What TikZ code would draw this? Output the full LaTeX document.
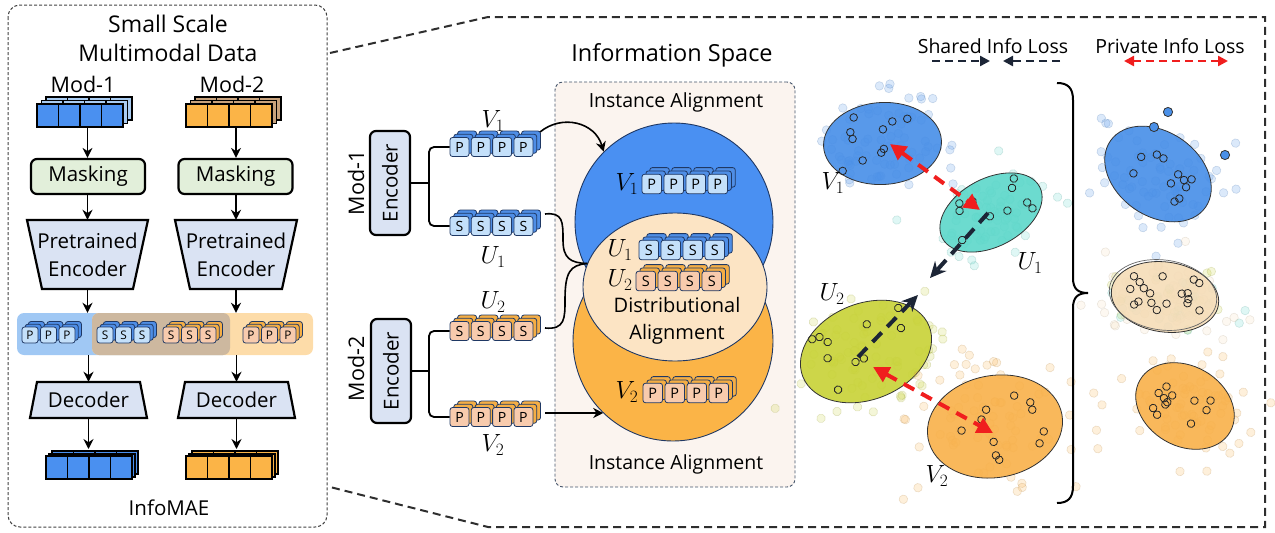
\documentclass[tikz,border=0pt]{standalone}
\usepackage{fontspec}
\setmainfont{Open Sans}
\usetikzlibrary{arrows.meta,calc,shapes.geometric}

\definecolor{maskgreen}{HTML}{E2EFDA}
\definecolor{trapblue}{HTML}{DAE3F3}
\definecolor{modblue}{HTML}{4A90F0}
\definecolor{modblueback}{HTML}{A9CCF2}
\definecolor{modorange}{HTML}{FBB447}
\definecolor{modorangeback}{HTML}{C8A27C}
\definecolor{tokblue}{HTML}{C4E0FA}
\definecolor{tokblueback}{HTML}{4F8EE6}
\definecolor{tokpeach}{HTML}{F8CBAD}
\definecolor{tokpeachback}{HTML}{F5AE45}
\definecolor{navy}{HTML}{1F3864}
\definecolor{bandblue}{HTML}{A0C8F4}
\definecolor{bandbrown}{HTML}{CDB89F}
\definecolor{bandorange}{HTML}{FDDCA9}
\definecolor{spacebg}{HTML}{FBF4EF}
\definecolor{spaceline}{HTML}{44546A}
\definecolor{circblue}{HTML}{4A90F2}
\definecolor{circorange}{HTML}{FBB447}
\definecolor{circcream}{HTML}{FCE4C4}
\definecolor{sclblue}{HTML}{4A90E8}
\definecolor{sclteal}{HTML}{5FD8CB}
\definecolor{sclyellow}{HTML}{C9D33A}
\definecolor{sclorange}{HTML}{F9B24D}
\definecolor{sclbeige}{HTML}{F5DDB9}
\definecolor{lossred}{HTML}{F01E1E}
\definecolor{lossdark}{HTML}{1C2536}
\definecolor{framegray}{HTML}{2E2E2E}

\tikzset{
  txt/.style={font=\fontsize{20.5}{28}\selectfont, inner sep=0pt, align=center},
  bigtxt/.style={font=\fontsize{23}{29}\selectfont, inner sep=0pt, align=center},
  smalltxt/.style={font=\fontsize{19.5}{24}\selectfont, inner sep=0pt, align=center},
  mathlab/.style={font=\fontsize{24}{24}\selectfont, inner sep=0pt},
  masknode/.style={txt, draw=black, line width=2.2pt, rounded corners=6pt, fill=maskgreen,
    minimum width=114pt, minimum height=35pt},
  trapfill/.style={draw=black, line width=2.2pt, fill=trapblue, line join=miter},
  encnode/.style={txt, draw=black, line width=2.2pt, rounded corners=6pt, fill=trapblue,
    minimum width=104pt, minimum height=40pt, rotate=90},
  flow/.style={-{Stealth[length=10pt,width=10pt]}, line width=1.9pt},
  brace/.style={line width=1.8pt, rounded corners=5pt},
  tokback/.style={draw=navy, line width=0.8pt, rounded corners=2.5pt},
  tokface/.style={draw=navy, line width=0.8pt, rounded corners=2.5pt, inner sep=0pt},
  cube/.style={draw=black, line width=1.8pt},
  panel/.style={draw=black!75, line width=1pt, dash pattern=on 3pt off 2pt, rounded corners=12pt},
  zoomframe/.style={draw=framegray, line width=2pt, dash pattern=on 8pt off 5pt},
  legdark/.style={draw=lossdark, line width=2.4pt, dash pattern=on 8pt off 5pt,
    -{Triangle[length=10pt,width=10pt]}},
  legred/.style={draw=lossred, line width=2.4pt, dash pattern=on 8pt off 5pt,
    {Triangle[length=10pt,width=10pt]}-{Triangle[length=10pt,width=10pt]}},
  bigred/.style={draw=lossred, line width=4pt, dash pattern=on 12pt off 8pt,
    {Triangle[length=16pt,width=16pt]}-{Triangle[length=16pt,width=16pt]}},
  bigdark/.style={draw=lossdark, line width=4pt, dash pattern=on 13pt off 8pt,
    -{Stealth[length=16pt,width=15pt]}},
  outlier/.style={fill=sclblue, draw=black!80, line width=.8pt},
}

% a row of stacked tokens: name, left x, centre y, count, pitch, size, letter, face, back
\newcommand{\tokrow}[9]{%
  \pgfmathsetmacro\tokfs{0.74*#6}%
  \foreach \lay in {2,1}{%
    \foreach \k in {1,...,#4}{%
      \draw[tokback, fill=#9] ({#2+(\k-1)*#5+0.2*\lay*#6},{#3-#6/2-0.17*\lay*#6}) rectangle ++(#6,#6);
    }}%
  \foreach \k in {1,...,#4}{%
    \node[tokface, fill=#8, minimum size=#6pt, font=\fontsize{\tokfs}{\tokfs}\selectfont]
      (#1-\k) at ({#2+(\k-1)*#5+#6/2},#3) {#7};
  }}

% a stack of four data cubes: left x, top y, face colour, back colour, layer step
\newcommand{\datastack}[5]{%
  \foreach \lay in {2,1}{%
    \foreach \k in {0,...,3}{%
      \draw[cube, fill=#4] ({#1+\k*21.5+\lay*#5},{#2-\lay*#5*0.8}) rectangle ++(21.5,23);
    }}%
  \foreach \k in {0,...,3}{%
    \draw[cube, fill=#3] ({#1+\k*21.5},#2) rectangle ++(21.5,23);
  }}

% faint scattered samples around a centre: cx, cy, sx, sy, colour, count, seed
\newcommand{\haze}[7]{%
  \begin{scope}[shift={(#1,#2)}]
    \pgfmathsetseed{#7}
    \foreach \i in {1,...,#6}{%
      \pgfmathsetmacro\px{0.5*#3*(rand+rand+rand)}
      \pgfmathsetmacro\py{0.5*#4*(rand+rand+rand)}
      \filldraw[fill=#5, draw=#5!70!black, fill opacity=.2, draw opacity=.22, line width=.6pt]
        (\px,\py) circle[radius=4.3];
    }
  \end{scope}}

% a scatter cluster: cx, cy, rx, ry, angle, colour, faint points, marked points, seed
\newcommand{\cluster}[9]{%
  \begin{scope}[shift={(#1,#2)}, rotate=#5]
    \pgfmathsetseed{#9}
    \foreach \i in {1,...,#7}{%
      \pgfmathsetmacro\px{0.6*#3*(rand+rand+rand)}
      \pgfmathsetmacro\py{0.65*#4*(rand+rand+rand)}
      \filldraw[fill=#6, draw=#6!70!black, fill opacity=.2, draw opacity=.22, line width=.6pt]
        (\px,\py) circle[radius=4.3];
    }
    \filldraw[fill=#6, fill opacity=.92, draw=black!80, line width=.8pt]
      (0,0) ellipse[x radius=#3, y radius=#4];
    \foreach \i in {1,...,#8}{%
      \pgfmathsetmacro\px{0.72*#3*rand}
      \pgfmathsetmacro\py{0.68*#4*rand}
      \draw[black!85, line width=.8pt] (\px,\py) circle[radius=3.8];
    }
  \end{scope}}

\begin{document}
\begin{tikzpicture}[x=1pt,y=-1pt]
\useasboundingbox (0,0) rectangle (1275,533);

% ================= zoom frame =================
\draw[zoomframe] (330,53) -- (488,17) -- (1265,17) -- (1265,527) -- (488,527) -- (330,487);

% ================= InfoMAE panel =================
\draw[panel] (8,5) rectangle (327,527);
\node[bigtxt] (title) at (168,38) {Small Scale\\Multimodal Data};
\node[txt, font=\fontsize{21.5}{28}\selectfont] (modlabA) at (83,84) {Mod-1};
\node[txt, font=\fontsize{21.5}{28}\selectfont] (modlabB) at (232,84) {Mod-2};

\datastack{37}{104}{modblue}{modblueback}{4.5}
\datastack{186}{104}{modorange}{modorangeback}{4.5}
\coordinate (inA) at (87.5,127);
\coordinate (inB) at (236,127);

\node[masknode] (maskA) at (88,176.5) {Masking};
\node[masknode] (maskB) at (235.5,176.5) {Masking};

\draw[trapfill] (27,220) -- (148,220) -- (133,289) -- (42,289) -- cycle;
\draw[trapfill] (175,220) -- (297,220) -- (282,289) -- (190,289) -- cycle;
\node[txt, minimum width=121pt, minimum height=69pt] (peA) at (87.5,254.5) {Pretrained\\Encoder};
\node[txt, minimum width=122pt, minimum height=69pt] (peB) at (236,254.5) {Pretrained\\Encoder};

% latent band
\fill[bandblue, rounded corners=7pt] (17,313) rectangle (230,355);
\fill[bandorange, rounded corners=7pt] (92,313) rectangle (313,355);
\fill[bandbrown, rounded corners=7pt] (92,313) rectangle (230,355);
\node[minimum width=296pt, minimum height=42pt, inner sep=0pt] (band) at (165,334) {};
\tokrow{bpA}{22}{335}{3}{18.5}{16}{P}{tokblue}{tokblueback}
\tokrow{bsA}{97}{335}{3}{18.5}{16}{S}{tokblue}{tokblueback}
\tokrow{bsB}{163}{335}{3}{18.5}{16}{S}{tokpeach}{tokpeachback}
\tokrow{bpB}{243}{335}{3}{18.5}{16}{P}{tokpeach}{tokpeachback}

\draw[trapfill] (37,382) -- (140,382) -- (147,418) -- (30,418) -- cycle;
\draw[trapfill] (185,382) -- (288,382) -- (295,418) -- (178,418) -- cycle;
\node[txt, minimum width=117pt, minimum height=36pt] (decA) at (88.5,400) {Decoder};
\node[txt, minimum width=117pt, minimum height=36pt] (decB) at (236.5,400) {Decoder};

\datastack{46}{456}{modblue}{modblue}{3}
\datastack{186}{456}{modorange}{modorange}{3}
\coordinate (outA) at (88.5,449);
\coordinate (outB) at (236.5,449);

\node[txt] (infomae) at (169,508) {InfoMAE};

\draw[flow] (inA) -- (maskA.north -| inA);
\draw[flow] (inB) -- (maskB.north -| inB);
\draw[flow] (maskA.south -| peA) -- (peA.north);
\draw[flow] (maskB.south -| peB) -- (peB.north);
\draw[flow] (peA.south) -- (peA.south |- band.north);
\draw[flow] (peB.south) -- (peB.south |- band.north);
\draw[flow] (band.south -| decA) -- (decA.north);
\draw[flow] (band.south -| decB) -- (decB.north);
\draw[flow] (decA.south) -- (outA);
\draw[flow] (decB.south) -- (outB);

% ================= encoders and token rows =================
\node[encnode] (encA) at (390,183) {Encoder};
\node[encnode] (encB) at (391,371) {Encoder};
\node[txt, rotate=90, font=\fontsize{21.5}{28}\selectfont] (modA) at (356,183) {Mod-1};
\node[txt, rotate=90, font=\fontsize{21.5}{28}\selectfont] (modB) at (356,369) {Mod-2};

\tokrow{v1}{450}{147}{4}{21.3}{19}{P}{tokblue}{tokblueback}
\tokrow{u1}{450}{226}{4}{21.3}{19}{S}{tokblue}{tokblueback}
\tokrow{u2}{450}{331}{4}{21.3}{19}{S}{tokpeach}{tokpeachback}
\tokrow{v2}{450}{417}{4}{21.3}{19}{P}{tokpeach}{tokpeachback}

\node[mathlab] (lv1) at (493,121) {$V_1$};
\node[mathlab] (lu1) at (493,257) {$U_1$};
\node[mathlab] (lu2) at (493,302) {$U_2$};
\node[mathlab] (lv2) at (493,445) {$V_2$};

\coordinate (forkA) at (429,183);
\coordinate (forkB) at (429,371);
\draw[line width=1.8pt] (encA.south) -- (forkA);
\draw[line width=1.8pt] (encB.south) -- (forkB);
\draw[brace] (v1-1.west) -- (v1-1.west -| forkA) -- (u1-1.west -| forkA) -- (u1-1.west);
\draw[brace] (u2-1.west) -- (u2-1.west -| forkB) -- (v2-1.west -| forkB) -- (v2-1.west);

% ================= information space =================
\node[bigtxt, font=\fontsize{23.5}{28}\selectfont] (infospace) at (672,55) {Information Space};
\node[draw=spaceline, line width=.9pt, dash pattern=on 3pt off 2pt, rounded corners=8pt,
  fill=spacebg, minimum width=240pt, minimum height=405pt, inner sep=0pt] (space) at (675,284.5) {};
\node[smalltxt] (iatop) at (676,102) {Instance Alignment};
\node[smalltxt] (iabot) at (676,464) {Instance Alignment};

\node[circle, draw=navy, line width=.9pt, fill=circorange, minimum size=200pt, inner sep=0pt] (cV2) at (673,341) {};
\node[circle, draw=navy, line width=.9pt, fill=circblue, minimum size=198pt, inner sep=0pt] (cV1) at (674,222) {};
\node[ellipse, draw=navy, line width=.9pt, fill=circcream, minimum width=184pt, minimum height=148pt, inner sep=0pt] (cU) at (675,287) {};

\node[mathlab, font=\fontsize{23}{23}\selectfont] (cv1lab) at (627,184) {$V_1$};
\node[mathlab, font=\fontsize{23}{23}\selectfont] (cu1lab) at (620,250) {$U_1$};
\node[mathlab, font=\fontsize{23}{23}\selectfont] (cu2lab) at (620,280) {$U_2$};
\node[mathlab, font=\fontsize{23}{23}\selectfont] (cv2lab) at (627,392) {$V_2$};
\tokrow{cv1}{642}{184}{4}{22}{19.5}{P}{tokblue}{tokblueback}
\tokrow{cu1}{639}{250}{4}{22}{19.5}{S}{tokblue}{tokblueback}
\tokrow{cu2}{636}{281}{4}{22}{19.5}{S}{tokpeach}{tokpeachback}
\tokrow{cv2}{643}{393}{4}{22}{19.5}{P}{tokpeach}{tokpeachback}
\node[txt, font=\fontsize{20}{27}\selectfont] (distal) at (677,321) {Distributional\\Alignment};

\coordinate (v1out) at (540,132);
\coordinate (u1out) at (545,214);
\coordinate (u2out) at (545,328);
\coordinate (v2out) at (545,413);
\draw[flow, line width=1.6pt] (v1out) .. controls (562,114) and (595,122) .. (cV1.135);
\draw[flow, line width=1.6pt] (v2out) -- (v2out -| cV2.226);
\draw[line width=1.6pt] (u1out) .. controls (563,212) and (563,222) .. (563,240)
  .. controls (563,258) and (570,263) .. (cU.165);
\draw[line width=1.6pt] (u2out) .. controls (565,330) and (565,318) .. (565,300)
  .. controls (565,272) and (570,265) .. (cU.165);

% ================= embedding scatter =================
\cluster{882.5}{143.5}{59}{41}{3}{sclblue}{75}{10}{3}
\cluster{991}{212.5}{55}{34}{28}{sclteal}{70}{10}{5}
\cluster{866}{351.5}{68}{48}{22}{sclyellow}{80}{10}{8}
\cluster{995}{426.5}{68}{51}{10}{sclorange}{80}{11}{13}

\cluster{1158}{174}{58}{42}{-35}{sclblue}{70}{11}{17}
\filldraw[outlier] (1168,112) circle[radius=4.6];
\filldraw[outlier] (1154,127) circle[radius=4.6];
\filldraw[outlier] (1225,155) circle[radius=4.6];
\haze{1165}{297}{62}{28}{sclyellow}{35}{41}
\haze{1165}{300}{60}{28}{sclteal}{25}{43}
\cluster{1165}{297}{54}{35}{-8}{sclbeige}{55}{18}{21}
\draw[black!60, line width=.7pt, rotate around={-8:(1163,295)}] (1163,295) ellipse[x radius=54, y radius=35];
\cluster{1185}{406}{52}{40}{-30}{sclorange}{70}{12}{29}

\node[mathlab] (sv1) at (833,183) {$V_1$};
\node[mathlab] (su1) at (1030,263) {$U_1$};
\node[mathlab] (su2) at (832,294) {$U_2$};
\node[mathlab] (sv2) at (937,476) {$V_2$};

\coordinate (ra1) at (890,144);
\coordinate (rb1) at (980,210);
\coordinate (ra2) at (873,367);
\coordinate (rb2) at (993,433);
\coordinate (da1) at (988,213);
\coordinate (db1) at (930,278);
\coordinate (da2) at (858,357);
\coordinate (db2) at (918,295);
\draw[bigred] (ra1) -- (rb1);
\draw[bigred] (ra2) -- (rb2);
\draw[bigdark] (da1) -- (db1);
\draw[bigdark] (da2) -- (db2);

\draw[line width=2pt] (1057,83) .. controls (1068,83) and (1073,88) .. (1073,100) -- (1073,278)
  .. controls (1073,289) and (1078,293) .. (1088,293)
  .. controls (1078,293) and (1073,297) .. (1073,308) -- (1073,486)
  .. controls (1073,498) and (1068,503) .. (1057,503);

% legend
\node[smalltxt] (shared) at (993,46) {Shared Info Loss};
\node[smalltxt] (private) at (1170,46) {Private Info Loss};
\coordinate (la1) at (932,61);
\coordinate (lb1) at (990,61);
\coordinate (la2) at (1060,61);
\coordinate (lb2) at (1003,61);
\coordinate (lc1) at (1124,61);
\coordinate (lc2) at (1228,61);
\draw[legdark] (la1) -- (lb1);
\draw[legdark] (la2) -- (lb2);
\draw[legred] (lc1) -- (lc2);

\end{tikzpicture}
\end{document}
